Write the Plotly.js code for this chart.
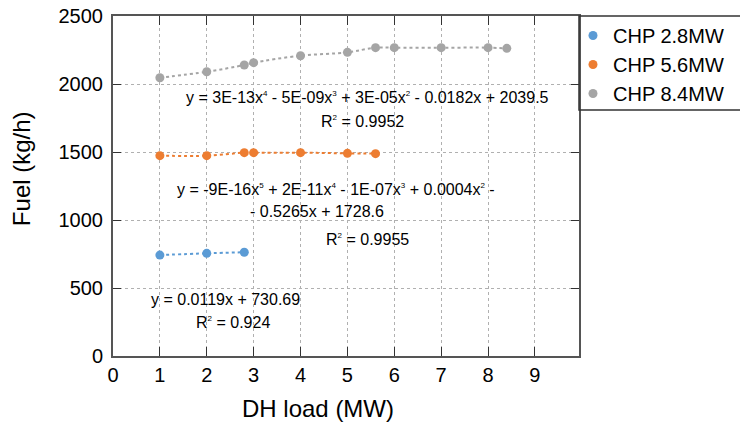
<!DOCTYPE html>
<html>
<head>
<meta charset="utf-8">
<script src="https://cdn.plot.ly/plotly-3.0.1.min.js"></script>
<style>html,body{margin:0;padding:0;background:#fff;}#chart{width:740px;height:428px;}</style>
</head>
<body>
<div id="chart"></div>
<script>
// Data
const xSmall = [1, 2, 2.8];
const ySmall = [742, 755, 763];
const xMid = [1, 2, 2.8, 3, 4, 5, 5.6];
const yMid = [1473, 1473, 1495, 1495, 1495, 1490, 1488];
const xLarge = [1, 2, 2.8, 3, 4, 5, 5.6, 6, 7, 8, 8.4];
const yLarge = [2046, 2090, 2140, 2157, 2208, 2233, 2267, 2267, 2267, 2267, 2262];
const seriesNames = ["CHP 2.8MW", "CHP 5.6MW", "CHP 8.4MW"];
const xTicks = [0, 1, 2, 3, 4, 5, 6, 7, 8, 9];
const yTicks = [0, 500, 1000, 1500, 2000, 2500];

const colors = ["#5B9BD5", "#ED7D31", "#A5A5A5"];
const font = "Liberation Sans, Arial, sans-serif";

function trendTrace(x, y, color) {
  return {
    x: x, y: y, type: "scatter", mode: "lines", showlegend: false, hoverinfo: "skip",
    line: {color: color, width: 2, dash: "dot", shape: "spline", smoothing: 1}
  };
}
function pointTrace(x, y, name, color) {
  return {
    x: x, y: y, name: name, type: "scatter", mode: "markers",
    marker: {color: color, size: 9}
  };
}
const data = [
  trendTrace(xSmall, ySmall, colors[0]),
  trendTrace(xMid, yMid, colors[1]),
  trendTrace(xLarge, yLarge, colors[2]),
  pointTrace(xSmall, ySmall, seriesNames[0], colors[0]),
  pointTrace(xMid, yMid, seriesNames[1], colors[1]),
  pointTrace(xLarge, yLarge, seriesNames[2], colors[2])
];

function ann(x, y, text) {
  return {x: x, y: y, xref: "x", yref: "y", text: text, showarrow: false,
    font: {family: font, size: 16, color: "#000"}, xanchor: "center", yanchor: "middle"};
}
const s = (n) => "<sup><span style=\"font-size:8px\">" + n + "</span></sup>";
const annotations = [
  ann(5.43, 1904, "y = 3E-13x" + s(4) + " - 5E-09x" + s(3) + " + 3E-05x" + s(2) + " - 0.0182x + 2039.5"),
  ann(5.33, 1721, "R" + s(2) + " = 0.9952"),
  ann(4.75, 1221, "y = -9E-16x" + s(5) + " + 2E-11x" + s(4) + " - 1E-07x" + s(3) + " + 0.0004x" + s(2) + " -"),
  ann(4.36, 1066, "- 0.5265x + 1728.6"),
  ann(5.43, 853, "R" + s(2) + " = 0.9955"),
  ann(2.41, 412, "y = 0.0119x + 730.69"),
  ann(2.56, 243, "R" + s(2) + " = 0.924"),
  {x: 0.44, y: -0.155, xref: "paper", yref: "paper", text: "DH load (MW)", showarrow: false,
    font: {family: font, size: 24, color: "#000"}, xanchor: "center", yanchor: "middle"},
  {x: -0.195, y: 0.55, xref: "paper", yref: "paper", text: "Fuel (kg/h)", showarrow: false, textangle: -90,
    font: {family: font, size: 24, color: "#000"}, xanchor: "center", yanchor: "middle"}
];

const layout = {
  width: 740, height: 428,
  margin: {l: 113, r: 160, t: 16, b: 72, pad: 0},
  paper_bgcolor: "#fff", plot_bgcolor: "#fff",
  font: {family: font, color: "#000"},
  showlegend: true,
  legend: {x: 0.985, xanchor: "left", y: 1, yanchor: "top", xref: "paper", yref: "paper",
    font: {family: font, size: 20, color: "#000"}, bgcolor: "rgba(0,0,0,0)", borderwidth: 0,
    tracegroupgap: 0, itemwidth: 30},
  xaxis: {
    range: [0, 9.94], tickvals: xTicks, ticktext: xTicks.map(String),
    showgrid: true, gridcolor: "#b0b0b0", griddash: "dot", gridwidth: 1, zeroline: false,
    showline: true, linecolor: "#555", linewidth: 2, mirror: "ticks",
    ticks: "inside", ticklen: 9, tickcolor: "#333", tickwidth: 1,
    tickfont: {family: font, size: 20, color: "#000"}, fixedrange: true
  },
  yaxis: {
    range: [0, 2500], tickvals: yTicks, ticktext: yTicks.map(String),
    showgrid: true, gridcolor: "#b0b0b0", griddash: "dot", gridwidth: 1, zeroline: false,
    showline: true, linecolor: "#555", linewidth: 2, mirror: "ticks",
    ticks: "inside", ticklen: 8, tickcolor: "#333", tickwidth: 1,
    tickfont: {family: font, size: 20, color: "#000"}, ticklabelstandoff: 4, fixedrange: true
  },
  shapes: [
    {type: "rect", xref: "paper", yref: "paper", x0: 1, x1: 1.6, y0: 0.7235, y1: 1,
      line: {color: "#333", width: 1.5}, fillcolor: "rgba(0,0,0,0)"}
  ],
  annotations: annotations
};

Plotly.newPlot("chart", data, layout, {displayModeBar: false, staticPlot: true});
</script>
</body>
</html>
